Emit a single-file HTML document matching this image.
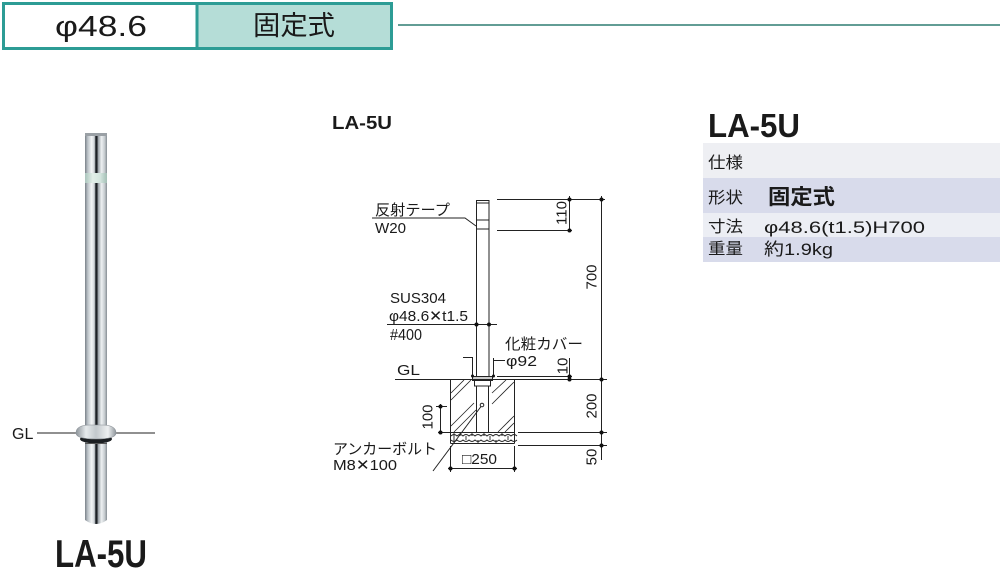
<!DOCTYPE html>
<html><head><meta charset="utf-8"><style>
html,body{margin:0;padding:0;background:#fff;}
svg{display:block;}
text{font-family:"Liberation Sans","Noto Sans CJK JP",sans-serif;fill:#1a1a1a;}
</style></head><body>
<svg width="1000" height="584" viewBox="0 0 1000 584" xmlns="http://www.w3.org/2000/svg">
<defs>
<linearGradient id="pg" x1="0" x2="1" y1="0" y2="0">
<stop offset="0" stop-color="#7a8188"/>
<stop offset="0.12" stop-color="#b9c0c6"/>
<stop offset="0.3" stop-color="#f3f5f6"/>
<stop offset="0.43" stop-color="#cdd2d6"/>
<stop offset="0.48" stop-color="#30353a"/>
<stop offset="0.54" stop-color="#15181b"/>
<stop offset="0.6" stop-color="#9aa1a7"/>
<stop offset="0.75" stop-color="#eef1f2"/>
<stop offset="0.9" stop-color="#c3c9cd"/>
<stop offset="1" stop-color="#858c92"/>
</linearGradient>
<linearGradient id="tg" x1="0" x2="1" y1="0" y2="0">
<stop offset="0" stop-color="#aac4bc"/>
<stop offset="0.35" stop-color="#e3efe9"/>
<stop offset="0.7" stop-color="#d3e5de"/>
<stop offset="1" stop-color="#a3beb5"/>
</linearGradient>
<linearGradient id="fg" x1="0" x2="1" y1="0" y2="0">
<stop offset="0" stop-color="#8d949a"/>
<stop offset="0.25" stop-color="#e6eaec"/>
<stop offset="0.5" stop-color="#c2c8cc"/>
<stop offset="0.8" stop-color="#eef0f1"/>
<stop offset="1" stop-color="#8f969c"/>
</linearGradient>
</defs>

<!-- Header -->
<rect x="197" y="3.5" width="194.5" height="45" fill="#b5ddd7"/>
<rect x="3.5" y="3.5" width="388" height="45" fill="none" stroke="#2d9c95" stroke-width="3"/>
<line x1="197" y1="3" x2="197" y2="49" stroke="#2d9c95" stroke-width="3"/>
<line x1="398" y1="25" x2="1000" y2="25" stroke="#2f7d72" stroke-width="1.5"/>
<text x="55" y="36" font-size="29" textLength="92" lengthAdjust="spacingAndGlyphs">φ48.6</text>
<text x="253" y="35" font-size="27" textLength="82" lengthAdjust="spacingAndGlyphs">固定式</text>

<!-- Left photo -->
<line x1="37" y1="433" x2="76" y2="433" stroke="#222" stroke-width="1"/>
<line x1="116" y1="433" x2="155" y2="433" stroke="#222" stroke-width="1"/>
<text x="12" y="439" font-size="16">GL</text>
<path d="M85,134 L107,134 L107,520 Q96,528 85,520 Z" fill="url(#pg)"/>
<rect x="85" y="133" width="22" height="3" fill="#9aa0a5"/>
<rect x="85" y="173" width="22" height="10" fill="url(#tg)"/>
<ellipse cx="96" cy="439" rx="16" ry="4.5" fill="#1b1e21"/>
<path d="M76,433 Q76,425 90,425 L102,425 Q116,425 116,433 Q116,439 96,439 Q76,439 76,433 Z" fill="url(#fg)" stroke="#8a9096" stroke-width="0.6"/>
<rect x="85" y="443" width="22" height="1" fill="#555"/>
<text x="55" y="567" font-size="39" font-weight="bold" textLength="92" lengthAdjust="spacingAndGlyphs">LA-5U</text>

<!-- Drawing title -->
<text x="332" y="129" font-size="18" font-weight="bold" textLength="60" lengthAdjust="spacingAndGlyphs">LA-5U</text>

<!-- Drawing -->
<g stroke="#222" stroke-width="1" fill="none">
<rect x="476.5" y="200.5" width="12.5" height="176" />
<line x1="476.5" y1="203" x2="489" y2="203"/>
<line x1="476.5" y1="220" x2="489" y2="220"/>
<line x1="476.5" y1="229" x2="489" y2="229"/>
<rect x="472.5" y="376.5" width="20" height="4" fill="#ccc"/>
<rect x="474.5" y="380.5" width="16" height="5.5"/>
<line x1="476.5" y1="386" x2="476.5" y2="432"/>
<line x1="488.5" y1="386" x2="488.5" y2="432"/>
<line x1="395" y1="379.5" x2="607" y2="379.5"/>
<line x1="450.5" y1="379.5" x2="450.5" y2="443.5"/>
<line x1="514.5" y1="379.5" x2="514.5" y2="443.5"/>
<line x1="438" y1="432.5" x2="514.5" y2="432.5"/>
<line x1="450.5" y1="443.5" x2="514.5" y2="443.5"/>
<g stroke-width="0.8">
<line x1="451" y1="393" x2="464" y2="380"/>
<line x1="451" y1="400" x2="471" y2="380"/>
<line x1="492" y1="393" x2="506" y2="380"/>
<line x1="492" y1="404" x2="514" y2="382"/>
<line x1="451" y1="426" x2="474" y2="403"/>
<line x1="454" y1="432" x2="476" y2="410"/>
<line x1="498" y1="432" x2="514" y2="416"/>
<line x1="505" y1="432" x2="514" y2="423"/>
</g>
<g stroke-width="0.9">
<path d="M451,436 q3,-3 6,0 q3,-3 6,0 q3,-3 6,0 q3,-3 6,0 q3,-3 6,0 q3,-3 6,0 q3,-3 6,0 q3,-3 6,0 q3,-3 6,0 q3,-3 6,0 q3,-3 6,0"/>
<path d="M451,440 q3,3 6,0 q3,3 6,0 q3,3 6,0 q3,3 6,0 q3,3 6,0 q3,3 6,0 q3,3 6,0 q3,3 6,0 q3,3 6,0 q3,3 6,0 q3,3 6,0"/>
<path d="M454,433 v10 M460,433 v3 M466,436 v4 M472,433 v3 M478,440 v3 M484,433 v3 M490,436 v4 M496,440 v3 M502,433 v3 M508,436 v4"/>
</g>
<circle cx="482" cy="405" r="1.8" fill="#fff"/>
<line x1="481" y1="406.5" x2="433" y2="471"/>
<polyline points="372,218 465,218 476,226"/>
<line x1="387" y1="324.5" x2="497" y2="324.5"/>
<polyline points="463,357.5 472.5,357.5 472.5,376"/>
<polyline points="493.5,376 493.5,358 493.5,360.5 505,360.5"/>
<line x1="497" y1="199.5" x2="605" y2="199.5"/>
<line x1="497" y1="230.5" x2="572" y2="230.5"/>
<line x1="569.5" y1="196" x2="569.5" y2="232"/>
<line x1="601.5" y1="196" x2="601.5" y2="460"/>
<line x1="497" y1="376.5" x2="572" y2="376.5"/>
<line x1="569.5" y1="358" x2="569.5" y2="380"/>
<line x1="518" y1="432.5" x2="607" y2="432.5"/>
<line x1="518" y1="445.5" x2="607" y2="445.5"/>
<line x1="436" y1="406.5" x2="447" y2="406.5"/>
<line x1="440.5" y1="404" x2="440.5" y2="433"/>
<line x1="450.5" y1="446" x2="450.5" y2="472"/>
<line x1="514.5" y1="446" x2="514.5" y2="472"/>
<line x1="448" y1="468.5" x2="517" y2="468.5"/>
</g>
<g fill="#111">
<circle cx="569.5" cy="199.5" r="2"/>
<circle cx="569.5" cy="230.5" r="2"/>
<circle cx="601.5" cy="199.5" r="2"/>
<circle cx="601.5" cy="379.5" r="2"/>
<circle cx="601.5" cy="432.5" r="2"/>
<circle cx="601.5" cy="445.5" r="2"/>
<circle cx="569.5" cy="376.5" r="2"/>
<circle cx="569.5" cy="379.5" r="2"/>
<circle cx="476.5" cy="324.5" r="2"/>
<circle cx="489" cy="324.5" r="2"/>
<circle cx="440.5" cy="406.5" r="2"/>
<circle cx="440.5" cy="432.5" r="2"/>
<circle cx="450.5" cy="468.5" r="2"/>
<circle cx="514.5" cy="468.5" r="2"/>
<circle cx="472.5" cy="376" r="1.5"/>
<circle cx="493.5" cy="376" r="1.5"/>
</g>

<g font-size="15">
<text x="375" y="215" textLength="75" lengthAdjust="spacingAndGlyphs">反射テープ</text>
<text x="375" y="233" textLength="31" lengthAdjust="spacingAndGlyphs">W20</text>
<text x="390" y="303" textLength="56" lengthAdjust="spacingAndGlyphs">SUS304</text>
<text x="389" y="321" textLength="79" lengthAdjust="spacingAndGlyphs">φ48.6✕t1.5</text>
<text x="390" y="340" font-size="15.5" textLength="32" lengthAdjust="spacingAndGlyphs">#400</text>
<text x="505" y="349" textLength="78" lengthAdjust="spacingAndGlyphs">化粧カバー</text>
<text x="506" y="366" textLength="31" lengthAdjust="spacingAndGlyphs">φ92</text>
<text x="397" y="375" textLength="23" lengthAdjust="spacingAndGlyphs">GL</text>
<text x="333" y="454" textLength="104" lengthAdjust="spacingAndGlyphs">アンカーボルト</text>
<text x="333" y="470" textLength="64" lengthAdjust="spacingAndGlyphs">M8✕100</text>
<text x="462" y="464" textLength="35" lengthAdjust="spacingAndGlyphs">□250</text>
</g>
<g font-size="15" text-anchor="middle" dominant-baseline="central">
<text transform="translate(562,213) rotate(-90)">110</text>
<text transform="translate(592,277) rotate(-90)">700</text>
<text transform="translate(563,366) rotate(-90)">10</text>
<text transform="translate(592,406) rotate(-90)">200</text>
<text transform="translate(592,457) rotate(-90)">50</text>
<text transform="translate(428,417) rotate(-90)">100</text>
</g>

<text x="708" y="137" font-size="33" font-weight="bold" textLength="92" lengthAdjust="spacingAndGlyphs">LA-5U</text>
<rect x="703" y="143" width="297" height="35" fill="#eeeff3"/>
<rect x="703" y="178" width="297" height="35" fill="#d8dbeb"/>
<rect x="703" y="213" width="297" height="24" fill="#eceef4"/>
<rect x="703" y="237" width="297" height="25" fill="#d8dbeb"/>
<g font-size="16">
<text x="708" y="168" textLength="35" lengthAdjust="spacingAndGlyphs">仕様</text>
<text x="708" y="203" textLength="35" lengthAdjust="spacingAndGlyphs">形状</text>
<text x="708" y="232" textLength="35" lengthAdjust="spacingAndGlyphs">寸法</text>
<text x="708" y="254" textLength="35" lengthAdjust="spacingAndGlyphs">重量</text>
<text x="764" y="233" font-size="17" textLength="161" lengthAdjust="spacingAndGlyphs">φ48.6(t1.5)H700</text>
<text x="764" y="255" font-size="17" textLength="69" lengthAdjust="spacingAndGlyphs">約1.9kg</text>
</g>
<text x="768" y="204" font-size="21" font-weight="bold" textLength="67" lengthAdjust="spacingAndGlyphs">固定式</text>
</svg>
</body></html>
